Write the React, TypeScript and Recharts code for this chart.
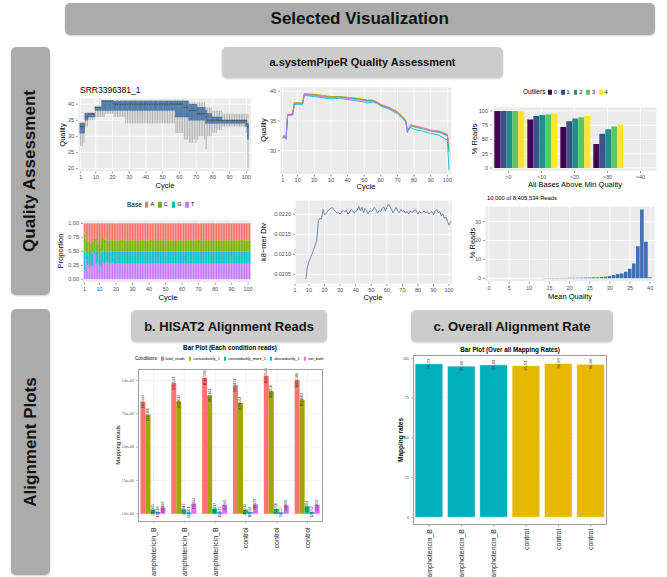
import React from "react";
import { BarChart, Bar, LineChart, Line, ComposedChart, XAxis, YAxis, CartesianGrid, LabelList, Cell } from "recharts";

const FONT = '"Liberation Sans", Arial, Helvetica, sans-serif';
const GG_BG = "#EBEBEB";
const TICK = { fontSize: 5.5, fill: "#4D4D4D", fontFamily: FONT };
const TICK_LINE = { stroke: "#333333", strokeWidth: 0.5 };

// ---------- a.1 per-cycle quality boxplot ----------
const cycles = Array.from({ length: 101 }, (_, i) => i + 1);
const cycleTicks = [1, 10, 20, 30, 40, 50, 60, 70, 80, 90, 100];

const boxLo = [
  27, 27, 28, 33, 33, 35, 35, 35, 35, 36,
  36, 36, 36, 36, 36, 37, 37, 37, 37, 37,
  36, 36, 36, 36, 36, 36, 36, 34, 34, 34,
  34, 34, 34, 34, 34, 34, 34, 34, 34, 34,
  34, 34, 34, 34, 34, 34, 34, 34, 34, 34,
  34, 34, 34, 34, 34, 34, 34, 31, 31, 31,
  31, 31, 29, 29, 29, 28, 28, 28, 29, 28,
  29, 30, 30, 30, 29, 26, 30, 30, 30, 31,
  31, 31, 32, 32, 32, 33, 33, 33, 33, 33,
  33, 33, 33, 33, 33, 33, 33, 33, 33, 31,
  20,
];
const boxQ1 = [
  31, 31, 31, 35, 35, 36, 36, 36, 36, 38,
  38, 38, 38, 38, 38, 38, 38, 38, 38, 38,
  38, 38, 38, 38, 38, 38, 38, 38, 38, 38,
  38, 38, 38, 38, 38, 38, 38, 38, 38, 38,
  38, 38, 38, 38, 38, 38, 38, 38, 38, 38,
  38, 38, 38, 38, 38, 38, 38, 36, 36, 36,
  36, 36, 36, 36, 36, 35, 35, 35, 35, 35,
  35, 35, 35, 35, 35, 34, 34, 34, 34, 34,
  34, 34, 34, 34, 34, 34, 34, 34, 34, 34,
  34, 34, 34, 34, 34, 34, 34, 34, 34, 33,
  29,
];
const boxMed = [
  33, 33, 33, 36, 36, 37, 37, 37, 37, 39,
  39, 39, 39, 41, 41, 41, 41, 41, 41, 41,
  40, 40, 40, 40, 40, 40, 40, 40, 40, 40,
  40, 40, 40, 40, 40, 40, 40, 40, 40, 40,
  40, 40, 40, 40, 40, 40, 40, 40, 40, 40,
  40, 40, 40, 40, 40, 40, 40, 40, 40, 40,
  40, 40, 39, 39, 39, 38, 38, 38, 38, 38,
  37, 37, 37, 37, 37, 36, 35, 35, 35, 35,
  35, 35, 35, 35, 35, 35, 35, 35, 35, 35,
  35, 35, 35, 35, 35, 35, 35, 35, 35, 35,
  33,
];
const boxQ3 = [
  34, 34, 34, 37, 37, 37, 37, 37, 37, 39,
  39, 39, 39, 41, 41, 41, 41, 41, 41, 41,
  41, 41, 41, 41, 41, 41, 41, 41, 41, 41,
  41, 41, 41, 41, 41, 41, 41, 41, 41, 41,
  41, 41, 41, 41, 41, 41, 41, 41, 41, 41,
  41, 41, 41, 41, 41, 41, 41, 41, 41, 41,
  41, 41, 41, 41, 41, 40, 40, 40, 40, 40,
  39, 39, 39, 39, 39, 38, 37, 37, 37, 36,
  36, 36, 36, 36, 36, 35, 35, 35, 35, 35,
  35, 35, 35, 35, 35, 35, 35, 35, 35, 35,
  34,
];
const boxHi = [
  34.5, 34.5, 34.5, 37.5, 37.5, 37.5, 37.5, 37.5, 37.5, 39.5,
  39.5, 39.5, 39.5, 41, 41, 41, 41, 41, 41, 41,
  41, 41, 41, 41, 41, 41, 41, 41, 41, 41,
  41, 41, 41, 41, 41, 41, 41, 41, 41, 41,
  41, 41, 41, 41, 41, 41, 41, 41, 41, 41,
  41, 41, 41, 41, 41, 41, 41, 41, 41, 41,
  41, 41, 41, 41, 41, 40.5, 40.5, 40.5, 40.5, 40.5,
  40.5, 40.5, 40.5, 40.5, 40.5, 39, 39, 39, 39, 38,
  38, 38, 38, 38, 38, 37, 37, 37, 37, 37,
  37, 37, 37, 37, 37, 37, 37, 37, 37, 37,
  37,
];

// ---------- a.2 mean quality per cycle, one line per sample ----------
const lineCycles = [1, 2, 3, 4, 7, 8, 13, 14, 20, 25, 30, 35, 40, 45, 50, 52, 55, 58, 60, 65, 70, 74, 75, 76, 78, 80, 85, 90, 95, 100, 101];
const lineS0 = [32.4, 32.6, 32.1, 36.1, 36.1, 38.0, 38.0, 39.5, 39.4, 39.2, 39.0, 39.1, 38.9, 38.8, 38.6, 38.4, 38.5, 38.2, 37.8, 37.3, 36.6, 35.5, 35.1, 33.3, 34.4, 34.2, 33.9, 33.5, 33.3, 32.7, 30.5];
const lineS1 = [32.2, 32.5, 32.0, 36.0, 36.2, 38.1, 38.0, 39.6, 39.5, 39.3, 39.1, 39.1, 39.0, 38.8, 38.6, 38.5, 38.5, 38.1, 37.7, 37.2, 36.5, 35.4, 35.0, 33.2, 34.3, 34.1, 33.8, 33.4, 33.2, 32.6, 29.9];
const lineS2 = [32.3, 32.4, 32.0, 36.0, 36.1, 37.9, 37.9, 39.4, 39.3, 39.1, 38.9, 39.0, 38.8, 38.7, 38.5, 38.4, 38.4, 38.0, 37.6, 37.1, 36.4, 35.3, 34.9, 33.1, 34.2, 34.0, 33.7, 33.3, 33.1, 32.5, 29.8];
const lineS3 = [32.1, 32.3, 31.9, 35.9, 36.0, 37.8, 37.8, 39.3, 39.1, 38.9, 38.7, 38.8, 38.6, 38.4, 38.2, 38.0, 38.2, 37.9, 37.5, 37.0, 36.2, 35.1, 34.8, 33.6, 33.9, 33.6, 33.3, 32.9, 32.6, 31.8, 26.8];
const lineS4 = [32.0, 32.5, 32.0, 36.1, 36.1, 37.9, 38.0, 39.4, 39.3, 39.1, 38.9, 39.0, 38.8, 38.6, 38.4, 38.2, 38.3, 38.0, 37.6, 37.2, 36.4, 35.3, 34.9, 33.0, 34.3, 34.2, 33.8, 33.4, 33.3, 32.8, 31.0];
const lineColors = ["#F8766D", "#A3A500", "#00BF7D", "#00B0F6", "#E76BF3"];

// ---------- a.3 % reads with all bases above min quality ----------
const outlierCats = [">0", ">10", ">20", ">30", ">40"];
const outlier0 = [100, 85, 72, 42, 0];
const outlier1 = [100, 91, 82, 60, 0];
const outlier2 = [100, 93, 87, 68, 0];
const outlier3 = [100, 94, 89, 73, 0];
const outlier4 = [100, 95, 91, 76, 0];
const outlierNames = ["0", "1", "2", "3", "4"];
const viridis = ["#440154", "#3B528B", "#21908C", "#5DC863", "#FDE725"];

// ---------- a.4 base proportion per cycle (percent) ----------
const baseT = [
  17, 36, 25, 22, 23, 24, 45, 28, 30, 23,
  22, 31, 29, 30, 30, 29, 29, 30, 29, 29,
  29, 29, 29, 29, 29, 29, 29, 29, 29, 29,
  29, 29, 29, 29, 29, 29, 29, 29, 29, 29,
  29, 29, 29, 29, 28, 29, 29, 29, 29, 29,
  29, 29, 29, 29, 29, 29, 29, 29, 29, 29,
  29, 30, 29, 29, 29, 29, 29, 29, 29, 29,
  29, 29, 29, 29, 29, 29, 29, 29, 29, 29,
  29, 29, 29, 29, 29, 29, 29, 28, 29, 29,
  29, 29, 29, 29, 29, 29, 29, 29, 29, 29,
  29,
];
const baseG = [
  32, 14, 20, 25, 24, 22, 8, 22, 19, 22,
  26, 19, 20, 20, 21, 21, 21, 20, 21, 21,
  21, 21, 21, 21, 21, 21, 21, 21, 21, 21,
  21, 21, 21, 21, 21, 21, 21, 21, 21, 21,
  21, 21, 21, 21, 22, 21, 21, 21, 21, 21,
  21, 21, 21, 21, 21, 21, 21, 21, 21, 21,
  21, 20, 21, 21, 21, 21, 21, 21, 21, 21,
  21, 21, 21, 21, 21, 21, 21, 21, 21, 21,
  21, 21, 21, 21, 21, 21, 21, 22, 21, 21,
  21, 21, 21, 21, 21, 21, 21, 21, 21, 21,
  21,
];
const baseC = [
  33, 22, 23, 20, 16, 22, 20, 22, 15, 17,
  20, 24, 22, 20, 19, 20, 20, 20, 20, 20,
  20, 20, 20, 21, 20, 20, 20, 20, 20, 20,
  20, 20, 19, 20, 20, 20, 20, 20, 20, 20,
  21, 20, 20, 20, 20, 20, 20, 20, 20, 20,
  20, 20, 20, 20, 20, 20, 19, 20, 20, 20,
  20, 20, 20, 20, 20, 20, 20, 20, 20, 21,
  20, 20, 20, 20, 20, 20, 20, 20, 20, 20,
  20, 20, 19, 20, 20, 20, 20, 20, 20, 20,
  20, 20, 20, 20, 20, 21, 20, 20, 20, 20,
  20,
];
const baseA = [
  18, 28, 32, 33, 37, 32, 27, 28, 36, 38,
  32, 26, 29, 30, 30, 30, 30, 30, 30, 30,
  30, 30, 30, 29, 30, 30, 30, 30, 30, 30,
  30, 30, 31, 30, 30, 30, 30, 30, 30, 30,
  29, 30, 30, 30, 30, 30, 30, 30, 30, 30,
  30, 30, 30, 30, 30, 30, 31, 30, 30, 30,
  30, 30, 30, 30, 30, 30, 30, 30, 30, 29,
  30, 30, 30, 30, 30, 30, 30, 30, 30, 30,
  30, 30, 31, 30, 30, 30, 30, 30, 30, 30,
  30, 30, 30, 30, 30, 29, 30, 30, 30, 30,
  30,
];
const baseColors = { A: "#F8766D", C: "#7CAE00", G: "#00BFC4", T: "#C77CFF" };

// ---------- a.5 k8-mer diversity, cycles 8..101 ----------
const kmerStart = 8;
const kmerDiv = [
  0.02038, 0.02069, 0.02082, 0.02092, 0.02102, 0.02112, 0.02123, 0.02136, 0.02184, 0.0219,
  0.02188, 0.02212, 0.02198, 0.02202, 0.02209, 0.02212, 0.02215, 0.02217, 0.02212, 0.02207,
  0.02203, 0.02204, 0.02201, 0.02207, 0.02209, 0.02207, 0.0221, 0.02201, 0.02204, 0.02212,
  0.02209, 0.02203, 0.02207, 0.0221, 0.0222, 0.02209, 0.02217, 0.02204, 0.02215, 0.02209,
  0.02201, 0.02209, 0.02207, 0.0221, 0.02217, 0.02212, 0.02203, 0.02209, 0.02207, 0.02215,
  0.02219, 0.02209, 0.02217, 0.02226, 0.0222, 0.02212, 0.02204, 0.0221, 0.02217, 0.02209,
  0.02204, 0.02212, 0.02207, 0.02209, 0.02203, 0.02207, 0.02201, 0.02209, 0.02204, 0.02207,
  0.02212, 0.02209, 0.02201, 0.02207, 0.02203, 0.02204, 0.02209, 0.02203, 0.02207, 0.02201,
  0.02204, 0.02207, 0.02198, 0.02209, 0.02212, 0.02204, 0.02207, 0.02196, 0.02201, 0.0219,
  0.02193, 0.02182, 0.02173, 0.02182,
];

// ---------- a.6 mean quality histogram ----------
const histPct = [
  0, 0, 0, 0, 0, 0, 0, 0, 0, 0,
  0, 0.05, 0.05, 0.05, 0.1, 0.1, 0.1, 0.15, 0.2, 0.2,
  0.25, 0.3, 0.3, 0.35, 0.4, 0.45, 0.5, 0.6, 0.7, 0.8,
  1.2, 1.8, 2.3, 2.6, 3.4, 5.0, 7.9, 17.0, 36.5, 19.4,
  0.5,
];

// ---------- b. HISAT2 alignment reads ----------
const samples = ["amphotericin_B", "amphotericin_B", "amphotericin_B", "control", "control", "control"];
const totalReads = [8405534, 9782593, 10187700, 9634171, 10352544, 10017480];
const concordant1 = [7426300, 8423012, 8874163, 8298452, 9182350, 8551003];
const concordantMore1 = [312465, 323917, 388217, 301213, 352718, 553364];
const discordant1 = [122586, 102301, 113675, 109062, 92655, 128752];
const notBoth = [480188, 759333, 656965, 700278, 640606, 653037];
const conditionKeys = ["total_reads", "concordantly_1", "concordantly_more_1", "discordantly_1", "not_both"];
const conditionColors = ["#F8766D", "#A3A500", "#00BF7D", "#00B0F6", "#E76BF3"];

// ---------- c. overall alignment rate ----------
const mappingRates = [96.73, 95.24, 96.08, 95.54, 96.93, 96.44];
const groupColors: Record<string, string> = { amphotericin_B: "#00AFBB", control: "#E7B800" };

// ---------- helpers ----------
type Panel = { l: number; t: number; w: number; h: number; yw: number; xh: number };
function frame(p: Panel) {
  return {
    style: { position: "absolute", left: p.l - p.yw, top: p.t - 2 } as React.CSSProperties,
    width: p.yw + p.w + 2,
    height: 2 + p.h + p.xh,
    margin: { top: 2, right: 2, left: 0, bottom: 0 },
  };
}

function Txt({ x, y, size, rot, bold, color, left, children }: any) {
  return (
    <div
      style={{
        position: "absolute",
        left: x,
        top: y,
        transform: `translate(${left ? "0" : "-50%"}, -50%)${rot ? " rotate(-90deg)" : ""}`,
        fontSize: size,
        fontWeight: bold ? "bold" : "normal",
        color: color || "#000",
        fontFamily: FONT,
        whiteSpace: "nowrap",
        lineHeight: 1,
      }}
    >
      {children}
    </div>
  );
}

function GrayBox({ x, y, w, h, bg, size, rot, children }: any) {
  return (
    <div
      style={{
        position: "absolute",
        left: x,
        top: y,
        width: w,
        height: h,
        background: bg,
        borderRadius: 5,
        boxShadow: "0 1px 2px rgba(0,0,0,0.18)",
        display: "flex",
        alignItems: "center",
        justifyContent: "center",
      }}
    >
      <div
        style={{
          fontFamily: FONT,
          fontWeight: "bold",
          fontSize: size,
          color: "#111",
          whiteSpace: "nowrap",
          transform: rot ? "rotate(-90deg)" : undefined,
        }}
      >
        {children}
      </div>
    </div>
  );
}

function Legend({ x, y, title, names, colors, size }: any) {
  return (
    <div style={{ position: "absolute", left: x, top: y, transform: "translateY(-50%)", display: "flex", alignItems: "center", fontFamily: FONT, fontSize: size, whiteSpace: "nowrap", lineHeight: 1 }}>
      <span style={{ marginRight: 3 }}>{title}</span>
      {names.map((n: string, i: number) => (
        <span key={n} style={{ display: "flex", alignItems: "center", marginRight: 4 }}>
          <span style={{ width: size * 0.55, height: size * 0.9, background: colors[i], marginRight: 2, display: "inline-block" }} />
          <span style={{ fontSize: size * 0.85 }}>{n}</span>
        </span>
      ))}
    </div>
  );
}

const BoxShape = (p: any) => {
  const { x, y, width, height, payload } = p;
  if (height == null || !payload) return null;
  const top = Math.min(y, y + height);
  const h = Math.abs(height);
  const k = h / (payload.hi - payload.lo);
  const py = (v: number) => top + (payload.hi - v) * k;
  const cx = x + width / 2;
  return (
    <g>
      <line x1={cx} x2={cx} y1={top} y2={top + h} stroke="#a3a3a3" strokeWidth={0.8} />
      <rect x={x} y={py(payload.q3)} width={width} height={py(payload.q1) - py(payload.q3)} fill="#5283B5" stroke="#3d6189" strokeWidth={0.3} />
      <line x1={x} x2={x + width} y1={py(payload.med)} y2={py(payload.med)} stroke="#4a4a4a" strokeWidth={1} />
    </g>
  );
};

const rotLabel = (size: number) => (p: any) => {
  const { x, y, width, value } = p;
  const cx = x + width / 2;
  return (
    <text x={cx} y={y} transform={`rotate(-90 ${cx} ${y})`} textAnchor="middle" dominantBaseline="central" fontSize={size} fill="#333" fontFamily={FONT}>
      {value}
    </text>
  );
};

const rotTick = (dy: number) => (p: any) => {
  const { x, y, payload } = p;
  return (
    <text x={x} y={y + dy} transform={`rotate(-90 ${x} ${y + dy})`} textAnchor="end" dominantBaseline="central" fontSize={7} fill="#1a1a1a" fontFamily={FONT}>
      {payload.value}
    </text>
  );
};

const sci = (v: number) => v.toExponential(1).replace("e+", "e+0");

// ---------- panels ----------
const P1: Panel = { l: 78.3, t: 98.3, w: 173.4, h: 73.4, yw: 14, xh: 12 };
const P2: Panel = { l: 280, t: 86.7, w: 171.7, h: 87.6, yw: 14, xh: 12 };
const P3: Panel = { l: 491.7, t: 106.7, w: 165, h: 64, yw: 16, xh: 12 };
const P4: Panel = { l: 83.3, t: 220, w: 168.4, h: 62.7, yw: 18, xh: 12 };
const P5: Panel = { l: 294.5, t: 200, w: 157.2, h: 84, yw: 26, xh: 12 };
const P6: Panel = { l: 485, t: 206, w: 170, h: 75.7, yw: 14, xh: 12 };
const PB: Panel = { l: 138.3, t: 369.3, w: 185, h: 152.4, yw: 16, xh: 55 };
const PC: Panel = { l: 413, t: 355, w: 194, h: 170, yw: 12, xh: 52 };

function QualityBoxplot() {
  const data = cycles.map((c, i) => ({ cycle: c, lo: boxLo[i], q1: boxQ1[i], med: boxMed[i], q3: boxQ3[i], hi: boxHi[i] }));
  const f = frame(P1);
  return (
    <div style={f.style}>
      <ComposedChart width={f.width} height={f.height} margin={f.margin} data={data}>
        <CartesianGrid fill={GG_BG} stroke="#fff" strokeWidth={0.8} />
        <XAxis type="number" dataKey="cycle" domain={[-0.6, 103]} ticks={cycleTicks} interval={0} allowDataOverflow tick={TICK} tickSize={2} tickLine={TICK_LINE} axisLine={false} height={P1.xh} />
        <YAxis type="number" domain={[19.1, 41.9]} ticks={[20, 25, 30, 35, 40]} interval={0} allowDataOverflow tick={TICK} tickSize={2} tickLine={TICK_LINE} axisLine={false} width={P1.yw} />
        <Bar dataKey={(d: any) => [d.lo, d.hi]} barSize={1.7} shape={BoxShape} isAnimationActive={false} />
      </ComposedChart>
    </div>
  );
}

function QualityLines() {
  const data = lineCycles.map((c, i) => ({ cycle: c, s0: lineS0[i], s1: lineS1[i], s2: lineS2[i], s3: lineS3[i], s4: lineS4[i] }));
  const f = frame(P2);
  return (
    <div style={f.style}>
      <LineChart width={f.width} height={f.height} margin={f.margin} data={data}>
        <CartesianGrid fill={GG_BG} stroke="#fff" strokeWidth={0.8} />
        <XAxis type="number" dataKey="cycle" domain={[-0.6, 102.6]} ticks={cycleTicks} interval={0} allowDataOverflow tick={TICK} tickSize={2} tickLine={TICK_LINE} axisLine={false} height={P2.xh} />
        <YAxis type="number" domain={[26, 40.7]} ticks={[30, 35, 40]} interval={0} allowDataOverflow tick={TICK} tickSize={2} tickLine={TICK_LINE} axisLine={false} width={P2.yw} />
        {["s0", "s1", "s2", "s3", "s4"].map((k, i) => (
          <Line key={k} dataKey={k} stroke={lineColors[i]} strokeWidth={0.8} dot={false} isAnimationActive={false} />
        ))}
      </LineChart>
    </div>
  );
}

function OutlierBars() {
  const data = outlierCats.map((c, i) => ({ cat: c, o0: outlier0[i], o1: outlier1[i], o2: outlier2[i], o3: outlier3[i], o4: outlier4[i] }));
  const f = frame(P3);
  return (
    <div style={f.style}>
      <BarChart width={f.width} height={f.height} margin={f.margin} data={data} barCategoryGap="7%" barGap={0}>
        <CartesianGrid fill={GG_BG} stroke="#fff" strokeWidth={0.8} />
        <XAxis dataKey="cat" tick={TICK} tickSize={2} tickLine={TICK_LINE} axisLine={false} height={P3.xh} interval={0} />
        <YAxis type="number" domain={[-5.3, 107]} ticks={[0, 25, 50, 75, 100]} interval={0} allowDataOverflow tick={TICK} tickSize={2} tickLine={TICK_LINE} axisLine={false} width={P3.yw} />
        {["o0", "o1", "o2", "o3", "o4"].map((k, i) => (
          <Bar key={k} dataKey={k} fill={viridis[i]} isAnimationActive={false} />
        ))}
      </BarChart>
    </div>
  );
}

function BaseProportion() {
  const data = cycles.map((c, i) => ({ cycle: c, T: baseT[i] / 100, G: baseG[i] / 100, C: baseC[i] / 100, A: baseA[i] / 100 }));
  const f = frame(P4);
  return (
    <div style={f.style}>
      <BarChart width={f.width} height={f.height} margin={f.margin} data={data}>
        <CartesianGrid fill={GG_BG} stroke="#fff" strokeWidth={0.8} />
        <XAxis type="number" dataKey="cycle" domain={[0, 102]} ticks={cycleTicks} interval={0} allowDataOverflow tick={TICK} tickSize={2} tickLine={TICK_LINE} axisLine={false} height={P4.xh} />
        <YAxis type="number" domain={[-0.06, 1.06]} ticks={[0, 0.25, 0.5, 0.75, 1]} interval={0} allowDataOverflow tickFormatter={(v: number) => v.toFixed(2)} tick={TICK} tickSize={2} tickLine={TICK_LINE} axisLine={false} width={P4.yw} />
        {(["T", "G", "C", "A"] as const).map((k) => (
          <Bar key={k} dataKey={k} stackId="b" fill={baseColors[k]} barSize={1.45} isAnimationActive={false} />
        ))}
      </BarChart>
    </div>
  );
}

function KmerDiversity() {
  const data = kmerDiv.map((v, i) => ({ cycle: kmerStart + i, div: v }));
  const f = frame(P5);
  return (
    <div style={f.style}>
      <LineChart width={f.width} height={f.height} margin={f.margin} data={data}>
        <CartesianGrid fill={GG_BG} stroke="#fff" strokeWidth={0.8} />
        <XAxis type="number" dataKey="cycle" domain={[1, 102]} ticks={cycleTicks} interval={0} allowDataOverflow tick={TICK} tickSize={2} tickLine={TICK_LINE} axisLine={false} height={P5.xh} />
        <YAxis type="number" domain={[0.020258, 0.022358]} ticks={[0.0205, 0.021, 0.0215, 0.022]} interval={0} allowDataOverflow tickFormatter={(v: number) => v.toFixed(4)} tick={TICK} tickSize={2} tickLine={TICK_LINE} axisLine={false} width={P5.yw} />
        <Line dataKey="div" stroke="#4F6FA0" strokeWidth={0.8} dot={false} isAnimationActive={false} />
      </LineChart>
    </div>
  );
}

function MeanQualityHist() {
  const data = histPct.map((v, i) => ({ q: i, pct: v }));
  const f = frame(P6);
  return (
    <div style={f.style}>
      <BarChart width={f.width} height={f.height} margin={f.margin} data={data}>
        <CartesianGrid fill={GG_BG} stroke="#fff" strokeWidth={0.8} />
        <XAxis type="number" dataKey="q" domain={[-1, 41.2]} ticks={[0, 5, 10, 15, 20, 25, 30, 35, 40]} interval={0} allowDataOverflow tick={TICK} tickSize={2} tickLine={TICK_LINE} axisLine={false} height={P6.xh} />
        <YAxis type="number" domain={[-1.8, 38.3]} ticks={[0, 10, 20, 30]} interval={0} allowDataOverflow tick={TICK} tickSize={2} tickLine={TICK_LINE} axisLine={false} width={P6.yw} />
        <Bar dataKey="pct" fill="#3F6FB5" barSize={3.6} isAnimationActive={false} />
      </BarChart>
    </div>
  );
}

function AlignmentReads() {
  const data = samples.map((s, i) => ({
    sample: s,
    total_reads: totalReads[i],
    concordantly_1: concordant1[i],
    concordantly_more_1: concordantMore1[i],
    discordantly_1: discordant1[i],
    not_both: notBoth[i],
  }));
  const f = frame(PB);
  return (
    <div style={f.style}>
      <BarChart width={f.width} height={f.height} margin={f.margin} data={data} barCategoryGap="8%" barGap={0}>
        <CartesianGrid fill="#fff" stroke="#EBEBEB" strokeWidth={0.6} />
        <XAxis dataKey="sample" tick={rotTick(2)} tickSize={2} tickLine={{ stroke: "#555", strokeWidth: 0.4 }} axisLine={false} height={PB.xh} interval={0} />
        <YAxis type="number" domain={[-580000, 10860000]} ticks={[0, 2500000, 5000000, 7500000, 10000000]} interval={0} allowDataOverflow tickFormatter={sci} tick={{ fontSize: 3.6, fill: "#4D4D4D", fontFamily: FONT }} tickSize={2} tickLine={{ stroke: "#555", strokeWidth: 0.4 }} axisLine={false} width={PB.yw} />
        {conditionKeys.map((k, i) => (
          <Bar key={k} dataKey={k} fill={conditionColors[i]} isAnimationActive={false}>
            <LabelList dataKey={k} content={rotLabel(3.4)} />
          </Bar>
        ))}
      </BarChart>
      <div style={{ position: "absolute", left: PB.yw, top: 2, width: PB.w, height: PB.h, border: "0.6px solid #a0a0a0", boxSizing: "border-box", pointerEvents: "none" }} />
    </div>
  );
}

function AlignmentRate() {
  const data = samples.map((s, i) => ({ sample: s, rate: mappingRates[i] }));
  const f = frame(PC);
  return (
    <div style={f.style}>
      <BarChart width={f.width} height={f.height} margin={f.margin} data={data} barCategoryGap="6%">
        <CartesianGrid fill="#fff" stroke="#EBEBEB" strokeWidth={0.6} />
        <XAxis dataKey="sample" tick={rotTick(0)} tickSize={2} tickLine={{ stroke: "#555", strokeWidth: 0.4 }} axisLine={false} height={PC.xh} interval={0} />
        <YAxis type="number" domain={[-4.85, 102.2]} ticks={[0, 25, 50, 75, 100]} interval={0} allowDataOverflow tick={{ fontSize: 3.6, fill: "#4D4D4D", fontFamily: FONT }} tickSize={2} tickLine={{ stroke: "#555", strokeWidth: 0.4 }} axisLine={false} width={PC.yw} />
        <Bar dataKey="rate" stroke="#fff" strokeWidth={0.8} isAnimationActive={false}>
          {data.map((d, i) => (
            <Cell key={i} fill={groupColors[d.sample]} />
          ))}
          <LabelList dataKey="rate" content={rotLabel(4)} />
        </Bar>
      </BarChart>
      <div style={{ position: "absolute", left: PC.yw, top: 2, width: PC.w, height: PC.h, border: "0.6px solid #a0a0a0", boxSizing: "border-box", pointerEvents: "none" }} />
    </div>
  );
}

export default function App() {
  return (
    <div style={{ position: "absolute", left: 0, top: 0, width: 667, height: 577, background: "#fff", overflow: "hidden", fontFamily: FONT }}>
      <GrayBox x={64.7} y={3} w={590} h={31.5} bg="#ABABAB" size={17}>Selected Visualization</GrayBox>
      <GrayBox x={10.6} y={46.7} w={39.6} h={248.3} bg="#ABABAB" size={17} rot>Quality Assessment</GrayBox>
      <GrayBox x={10.6} y={309.3} w={39.6} h={266} bg="#ABABAB" size={17} rot>Alignment Plots</GrayBox>
      <GrayBox x={222} y={46.7} w={281} h={31.3} bg="#CCCCCC" size={11}>a.systemPipeR Quality Assessment</GrayBox>
      <GrayBox x={131} y={310} w={196} h={32} bg="#CCCCCC" size={13}>b. HISAT2 Alignment Reads</GrayBox>
      <GrayBox x={411} y={310} w={202} h={32} bg="#CCCCCC" size={13}>c. Overall Alignment Rate</GrayBox>

      {/* top row */}
      <Txt x={80} y={90} size={8.5} left>SRR3396381_1</Txt>
      <QualityBoxplot />
      <Txt x={63} y={135} size={7.5} rot>Quality</Txt>
      <Txt x={165} y={186} size={7.5}>Cycle</Txt>

      <QualityLines />
      <Txt x={264} y={130} size={7.5} rot>Quality</Txt>
      <Txt x={366} y={187} size={7.5}>Cycle</Txt>

      <Legend x={523} y={92.3} title="Outliers" names={outlierNames} colors={viridis} size={6.5} />
      <OutlierBars />
      <Txt x={475} y={139} size={7.5} rot>% Reads</Txt>
      <Txt x={575} y={185} size={7.5}>All Bases Above Min Quality</Txt>

      {/* second row */}
      <Legend x={127} y={205} title="Base" names={["A", "C", "G", "T"]} colors={[baseColors.A, baseColors.C, baseColors.G, baseColors.T]} size={6.5} />
      <BaseProportion />
      <Txt x={61} y={251} size={7.5} rot>Proportion</Txt>
      <Txt x={168} y={298} size={7.5}>Cycle</Txt>

      <KmerDiversity />
      <Txt x={264} y={242} size={7.5} rot>k8−mer Div</Txt>
      <Txt x={373} y={298} size={7.5}>Cycle</Txt>

      <Txt x={487} y={199} size={5.8} left>10,000 of 8,405,534 Reads</Txt>
      <MeanQualityHist />
      <Txt x={473} y={243} size={7.5} rot>% Reads</Txt>
      <Txt x={570} y={297} size={7.5}>Mean Quality</Txt>

      {/* alignment plots */}
      <Txt x={230} y={347.5} size={6.3} bold>Bar Plot (Each condition reads)</Txt>
      <Legend x={135} y={359} title="Conditions:" names={conditionKeys} colors={conditionColors} size={4.6} />
      <AlignmentReads />
      <Txt x={118} y={445} size={6} rot>Mapping reads</Txt>

      <Txt x={510} y={350} size={6.3} bold>Bar Plot (Over all Mapping Rates)</Txt>
      <AlignmentRate />
      <Txt x={401} y={440} size={6.5} bold rot>Mapping rates</Txt>
    </div>
  );
}
